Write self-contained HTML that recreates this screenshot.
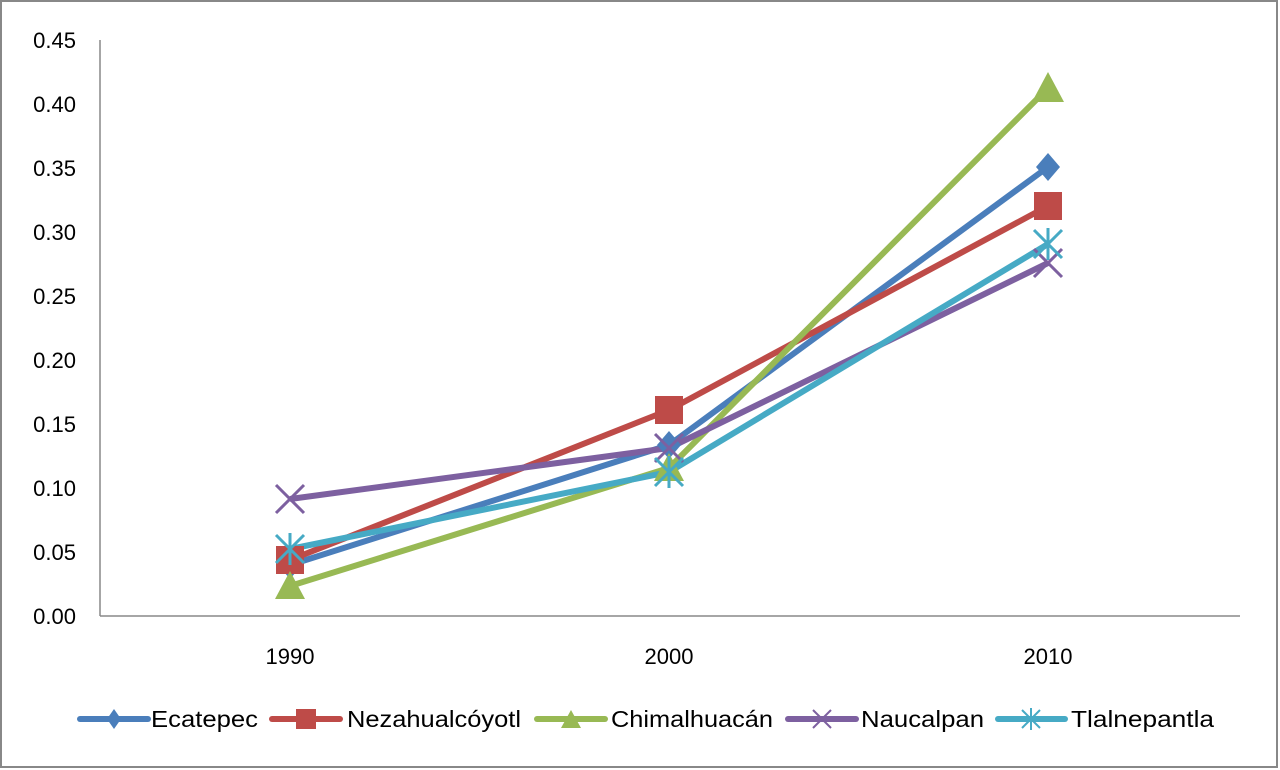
<!DOCTYPE html>
<html><head><style>
html,body{margin:0;padding:0;background:#fff;}
svg{display:block;font-family:"Liberation Sans",Arial,sans-serif;}
</style></head><body>
<svg width="1280" height="770" viewBox="0 0 1280 770">
<rect x="1" y="1" width="1276" height="766" fill="#fff" stroke="#888" stroke-width="2"/>
<line x1="100" y1="40" x2="100" y2="616" stroke="#888" stroke-width="1.5"/>
<line x1="100" y1="616" x2="1240" y2="616" stroke="#888" stroke-width="1.5"/>
<g font-size="22" fill="#000" text-anchor="end">
<text x="76" y="624">0.00</text>
<text x="76" y="560">0.05</text>
<text x="76" y="496">0.10</text>
<text x="76" y="432">0.15</text>
<text x="76" y="368">0.20</text>
<text x="76" y="304">0.25</text>
<text x="76" y="240">0.30</text>
<text x="76" y="176">0.35</text>
<text x="76" y="112">0.40</text>
<text x="76" y="48">0.45</text>
</g>
<g font-size="22" fill="#000" text-anchor="middle">
<text x="290" y="664">1990</text>
<text x="669" y="664">2000</text>
<text x="1048" y="664">2010</text>
</g>
<g fill="none" stroke-width="6" stroke-linejoin="round">
<polyline points="290,565 669,445 1048,167" stroke="#4a7ebb"/>
<polyline points="290,560 669,410 1048,206" stroke="#be4b48"/>
<polyline points="290,586 669,468 1048,88" stroke="#98b954"/>
<polyline points="290,499 669,448 1048,263" stroke="#7d60a0"/>
<polyline points="290,549 669,472 1048,244" stroke="#46aac5"/>
</g>
<g fill="#4a7ebb"><polygon points="290,551 302,565 290,579 278,565"/><polygon points="669,431 681,445 669,459 657,445"/><polygon points="1048,153 1060,167 1048,181 1036,167"/></g>
<g fill="#be4b48"><rect x="276" y="546" width="28" height="28"/><rect x="655" y="396" width="28" height="28"/><rect x="1034" y="192" width="28" height="28"/></g>
<g fill="#98b954"><polygon points="290,571 305,599 275,599"/><polygon points="669,453 684,481 654,481"/><polygon points="1048,72 1064,102 1032,102"/></g>
<g stroke="#7d60a0" stroke-width="3"><path d="M276,485L304,513M304,485L276,513M655,434L683,462M683,434L655,462M1034,249L1062,277M1062,249L1034,277"/></g>
<g stroke="#46aac5" stroke-width="3"><path d="M276,535L304,563M304,535L276,563M290,533V565M655,458L683,486M683,458L655,486M669,456V488M1034,230L1062,258M1062,230L1034,258M1048,228V260"/></g>
<g stroke-width="6" stroke-linecap="round">
<line x1="80" y1="719" x2="148" y2="719" stroke="#4a7ebb"/>
<line x1="272" y1="719" x2="340" y2="719" stroke="#be4b48"/>
<line x1="537" y1="719" x2="605" y2="719" stroke="#98b954"/>
<line x1="788" y1="719" x2="856" y2="719" stroke="#7d60a0"/>
<line x1="998" y1="719" x2="1065" y2="719" stroke="#46aac5"/>
</g>
<polygon points="114,709 121,719 114,729 107,719" fill="#4a7ebb"/>
<rect x="296" y="709" width="20" height="20" fill="#be4b48"/>
<polygon points="571,710 581,728 561,728" fill="#98b954"/>
<path d="M813,710L831,728M831,710L813,728" stroke="#7d60a0" stroke-width="2"/>
<path d="M1022,710L1040,728M1040,710L1022,728M1031,708V730" stroke="#46aac5" stroke-width="2"/>
<g font-size="23" fill="#000">
<text x="151" y="727" textLength="107" lengthAdjust="spacingAndGlyphs">Ecatepec</text>
<text x="347" y="727" textLength="174" lengthAdjust="spacingAndGlyphs">Nezahualcóyotl</text>
<text x="611" y="727" textLength="162" lengthAdjust="spacingAndGlyphs">Chimalhuacán</text>
<text x="861" y="727" textLength="123" lengthAdjust="spacingAndGlyphs">Naucalpan</text>
<text x="1071" y="727" textLength="143" lengthAdjust="spacingAndGlyphs">Tlalnepantla</text>
</g>
</svg>
</body></html>
